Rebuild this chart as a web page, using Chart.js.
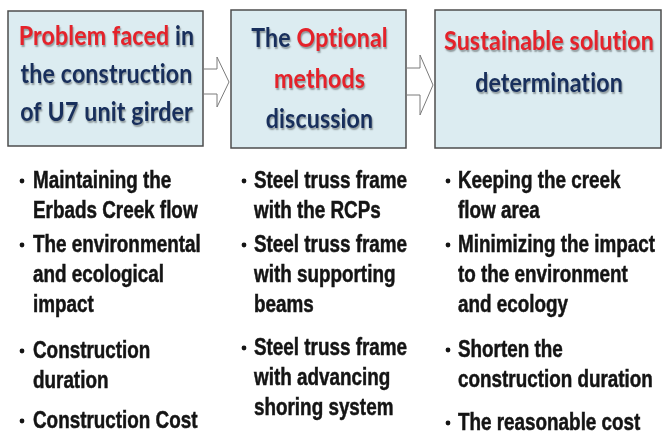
<!DOCTYPE html>
<html>
<head>
<meta charset="utf-8">
<script src="https://cdn.jsdelivr.net/npm/chart.js@4.4.1/dist/chart.umd.min.js"></script>
<style>
  html, body { margin: 0; padding: 0; background: #fff; }
  canvas { display: block; }
</style>
</head>
<body>
<canvas id="flow-chart" width="662" height="432"></canvas>
<script>
// headings: text between * * is drawn red, the rest navy
const stageHeadings = [
  ['*Problem faced* in', 'the construction', 'of U7 unit girder'],
  ['The *Optional*', '*methods*', 'discussion'],
  ['*Sustainable solution*', 'determination']
];

const problemItems = [
  ['Maintaining the', 'Erbads Creek flow'],
  ['The environmental', 'and ecological', 'impact'],
  ['Construction', 'duration'],
  ['Construction Cost']
];

const methodItems = [
  ['Steel truss frame', 'with the RCPs'],
  ['Steel truss frame', 'with supporting', 'beams'],
  ['Steel truss frame', 'with advancing', 'shoring system']
];

const solutionItems = [
  ['Keeping the creek', 'flow area'],
  ['Minimizing the impact', 'to the environment', 'and ecology'],
  ['Shorten the', 'construction duration'],
  ['The reasonable cost']
];

const columnItems = [problemItems, methodItems, solutionItems];

// layout of the three panels
const boxes = [
  { x: 8, y: 11, w: 195, h: 135, heads: [45, 83, 121] },
  { x: 231, y: 10, w: 175, h: 138, heads: [47, 88, 128] },
  { x: 435, y: 10, w: 226, h: 138, heads: [50, 92] }
];
const columns = [
  { bullet: 22, text: 33, starts: [188, 252, 358, 428] },
  { bullet: 244, text: 254, starts: [188, 252, 355] },
  { bullet: 448, text: 458, starts: [188, 252, 357, 430] }
];
const arrows = [
  { x0: 204, top: 69, bot: 94, hx: 217, hTop: 57, hBot: 107, tip: 229, mid: 82 },
  { x0: 407, top: 68, bot: 95, hx: 420, hTop: 55, hBot: 115, tip: 433, mid: 85 }
];

const RED = '#e5222a';
const NAVY = '#182f5c';
const HEAD_FONT = 'bold 27px Lato';
const ITEM_FONT = 'bold 24px "Liberation Sans", Arial, sans-serif';
const LINE_H = 30;

function splitSegments(line) {
  const parts = line.split('*');
  return parts.map((t, i) => ({ text: t, color: i % 2 === 1 ? RED : NAVY })).filter(p => p.text);
}

function drawHeading(ctx, line, cx, y, sx) {
  const segs = splitSegments(line);
  const total = segs.reduce((s, p) => s + ctx.measureText(p.text).width, 0);
  ctx.save();
  ctx.translate(cx, y);
  ctx.scale(sx, 1);
  let x = -total / 2;
  segs.forEach(p => {
    ctx.fillStyle = p.color;
    ctx.fillText(p.text, x, 0);
    x += ctx.measureText(p.text).width;
  });
  ctx.restore();
}

const diagramPlugin = {
  id: 'diagram',
  afterDraw(chart) {
    const ctx = chart.ctx;
    ctx.save();

    // panels
    boxes.forEach(b => {
      ctx.fillStyle = '#dcecf1';
      ctx.fillRect(b.x, b.y, b.w, b.h);
      ctx.strokeStyle = '#4d4d4d';
      ctx.lineWidth = 1.5;
      ctx.strokeRect(b.x, b.y, b.w, b.h);
    });

    // arrows between panels
    arrows.forEach(a => {
      ctx.beginPath();
      ctx.moveTo(a.x0, a.top);
      ctx.lineTo(a.hx, a.top);
      ctx.lineTo(a.hx, a.hTop);
      ctx.lineTo(a.tip, a.mid);
      ctx.lineTo(a.hx, a.hBot);
      ctx.lineTo(a.hx, a.bot);
      ctx.lineTo(a.x0, a.bot);
      ctx.fillStyle = '#fff';
      ctx.fill();
      ctx.strokeStyle = '#7a7a7a';
      ctx.lineWidth = 1;
      ctx.stroke();
    });

    // headings (small letter spacing keeps the "ti" ligature off)
    ctx.font = HEAD_FONT;
    if ('letterSpacing' in ctx) ctx.letterSpacing = '0.2px';
    ctx.textBaseline = 'alphabetic';
    ctx.textAlign = 'left';
    const headScale = 172 / ctx.measureText('the construction').width;
    ctx.shadowColor = 'rgba(0,0,0,0.35)';
    ctx.shadowOffsetX = 1;
    ctx.shadowOffsetY = 1.5;
    ctx.shadowBlur = 1.5;
    stageHeadings.forEach((lines, i) => {
      const b = boxes[i];
      lines.forEach((line, j) => drawHeading(ctx, line, b.x + b.w / 2 + 1, b.heads[j], headScale));
    });
    ctx.shadowColor = 'transparent';
    if ('letterSpacing' in ctx) ctx.letterSpacing = '0px';

    // bullet lists
    ctx.font = ITEM_FONT;
    const itemScale = 197 / ctx.measureText('Minimizing the impact').width;
    ctx.fillStyle = '#141414';
    ctx.strokeStyle = '#141414';
    ctx.lineWidth = 0.5;
    columnItems.forEach((items, c) => {
      const col = columns[c];
      items.forEach((lines, k) => {
        const y0 = col.starts[k];
        ctx.beginPath();
        ctx.arc(col.bullet, y0 - 7, 2.4, 0, Math.PI * 2);
        ctx.fill();
        lines.forEach((line, j) => {
          ctx.save();
          ctx.translate(col.text, y0 + j * LINE_H);
          ctx.scale(itemScale, 1);
          ctx.fillText(line, 0, 0);
          ctx.strokeText(line, 0, 0);
          ctx.restore();
        });
      });
    });

    ctx.restore();
  }
};

new Chart(document.getElementById('flow-chart'), {
  type: 'bar',
  data: { labels: [], datasets: [] },
  options: {
    responsive: false,
    animation: false,
    layout: { padding: 0 },
    plugins: { legend: { display: false }, tooltip: { enabled: false } },
    scales: { x: { display: false }, y: { display: false } }
  },
  plugins: [diagramPlugin]
});
</script>
</body>
</html>
